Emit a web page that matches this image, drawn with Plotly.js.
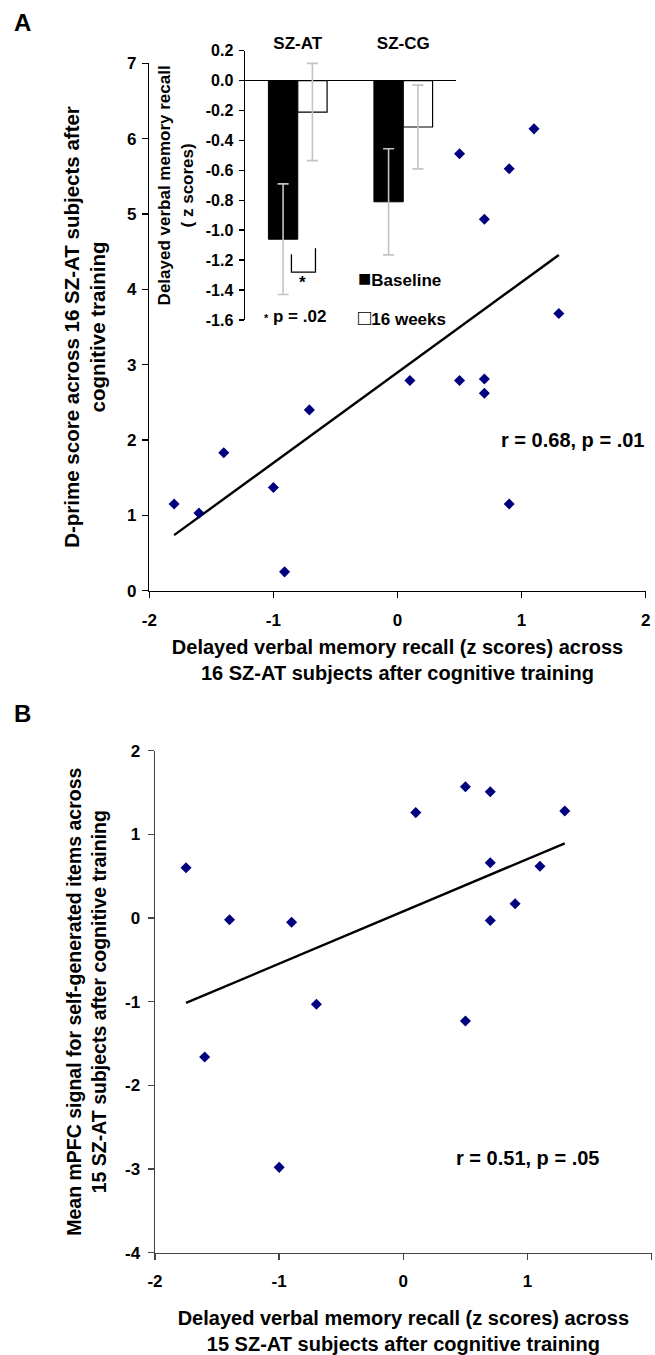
<!DOCTYPE html>
<html>
<head>
<meta charset="utf-8">
<script src="https://cdn.plot.ly/plotly-3.0.1.min.js"></script>
<style>html,body{margin:0;padding:0;background:#fff}#chart{width:655px;height:1355px}</style>
</head>
<body>
<div id="chart"></div>
<script>
// ---- Panel A scatter: delayed verbal memory recall vs D-prime (16 SZ-AT subjects)
const recallA = [-1.8, -1.6, -1.4, -1.0, -0.91, -0.71, 0.1, 0.5, 0.7, 0.7, 0.9, 1.3, 0.5, 0.9, 1.1, 0.7];
const dprimeA = [1.15, 1.03, 1.83, 1.37, 0.25, 2.40, 2.79, 2.79, 2.81, 2.62, 1.15, 3.68, 5.80, 5.60, 6.13, 4.93];
const statA = 'r = 0.68, p = .01';

// ---- Panel B scatter: delayed verbal memory recall vs mPFC signal (15 SZ-AT subjects)
const recallB = [-1.75, -1.6, -1.4, -1.0, -0.9, -0.7, 0.1, 0.5, 0.5, 0.7, 0.7, 0.7, 0.9, 1.1, 1.3];
const mpfcB  = [0.60, -1.66, -0.02, -2.98, -0.05, -1.03, 1.26, 1.57, -1.23, 1.51, 0.66, -0.03, 0.17, 0.62, 1.28];
const statB = 'r = 0.51, p = .05';

// ---- Inset bar chart: delayed verbal memory recall (z scores)
const groups = ['SZ-AT', 'SZ-CG'];
const baseline = [-1.06, -0.81];
const baselineErr = [0.37, 0.355];
const weeks16 = [-0.21, -0.31];
const weeks16Err = [0.325, 0.28];
const legendNames = ['Baseline', '16 weeks'];
const sigMark = '*';
const sigNote = ' p = .02';

// ---- Tick values (labels written with a plain hyphen as in the original)
const xTicks = [-2, -1, 0, 1, 2];
const yTicksA = [0, 1, 2, 3, 4, 5, 6, 7];
const yTicksB = [-4, -3, -2, -1, 0, 1, 2];
const yTicksInset = [0.2, 0.0, -0.2, -0.4, -0.6, -0.8, -1.0, -1.2, -1.4, -1.6];

function fitLine(xs, ys) {
  const n = xs.length;
  const mx = xs.reduce((a, b) => a + b, 0) / n;
  const my = ys.reduce((a, b) => a + b, 0) / n;
  let sxy = 0, sxx = 0;
  for (let i = 0; i < n; i++) { sxy += (xs[i] - mx) * (ys[i] - my); sxx += (xs[i] - mx) ** 2; }
  const slope = sxy / sxx, icpt = my - slope * mx;
  const x0 = Math.min(...xs), x1 = Math.max(...xs);
  return { x: [x0, x1], y: [icpt + slope * x0, icpt + slope * x1] };
}
const fitA = fitLine(recallA, dprimeA);
const fitB = fitLine(recallB, mpfcB);

const FONT = 'Liberation Sans, Arial, sans-serif';
const navy = '#00007f';
const W = 655, H = 1355;
const px = v => v / W, py = v => 1 - v / H;

const markerStyle = { symbol: 'diamond', size: 8.5, color: navy };

const traces = [
  { type: 'scatter', mode: 'lines', x: fitA.x, y: fitA.y, xaxis: 'x', yaxis: 'y',
    line: { color: '#000', width: 2.4 }, hoverinfo: 'skip' },
  { type: 'scatter', mode: 'markers', x: recallA, y: dprimeA, xaxis: 'x', yaxis: 'y', marker: markerStyle },
  { type: 'scatter', mode: 'lines', x: fitB.x, y: fitB.y, xaxis: 'x2', yaxis: 'y2',
    line: { color: '#000', width: 2.4 }, hoverinfo: 'skip' },
  { type: 'scatter', mode: 'markers', x: recallB, y: mpfcB, xaxis: 'x2', yaxis: 'y2', marker: markerStyle },
  { type: 'bar', name: legendNames[0], x: groups, y: baseline, xaxis: 'x3', yaxis: 'y3',
    marker: { color: '#000', line: { color: '#000', width: 1 } },
    error_y: { type: 'data', array: baselineErr, visible: true, color: '#c4c4c4', thickness: 1.6, width: 5.5 } },
  { type: 'bar', name: legendNames[1], x: groups, y: weeks16, xaxis: 'x3', yaxis: 'y3',
    marker: { color: '#fff', line: { color: '#000', width: 1.2 } },
    error_y: { type: 'data', array: weeks16Err, visible: true, color: '#c4c4c4', thickness: 1.6, width: 5.5 } }
];

const tickF = { family: FONT, size: 17, color: '#000', weight: 'bold' };
const titleF = { family: FONT, size: 20, color: '#000', weight: 'bold' };

const mainAxis = (extra) => Object.assign({
  showline: true, linecolor: '#000', linewidth: 1.5, mirror: false,
  ticks: 'outside', ticklen: 6, tickwidth: 1.5, tickcolor: '#000',
  showgrid: false, zeroline: false, tickfont: tickF, automargin: false, fixedrange: true
}, extra);

const arrTicks = (vals, digits) => ({
  tickmode: 'array', tickvals: vals,
  ticktext: vals.map(v => digits ? v.toFixed(digits) : String(v))
});

const layout = {
  width: W, height: H,
  margin: { l: 0, r: 0, t: 0, b: 0 },
  paper_bgcolor: '#fff', plot_bgcolor: 'rgba(0,0,0,0)',
  showlegend: false,
  barmode: 'group', bargap: 0.444, bargroupgap: 0,
  font: { family: FONT, color: '#000' },
  xaxis: mainAxis(Object.assign({ domain: [px(149.3), px(645.7)], anchor: 'y', range: [-2, 2], ticklabelstandoff: 7,
    title: { text: 'Delayed verbal memory recall (z scores) across<br>16 SZ-AT subjects after cognitive training', font: titleF, standoff: 11 } },
    arrTicks(xTicks))),
  yaxis: mainAxis(Object.assign({ domain: [py(590.7), py(63.3)], anchor: 'x', range: [0, 7], ticklabelstandoff: 2,
    title: { text: 'D-prime score across 16 SZ-AT subjects after<br>cognitive training', font: Object.assign({}, titleF, { size: 20.5 }), standoff: 15 } },
    arrTicks(yTicksA))),
  xaxis2: mainAxis(Object.assign({ domain: [px(155), px(651.7)], anchor: 'y2', range: [-2, 2], ticklabelstandoff: 6,
    linecolor: '#444', tickcolor: '#444',
    title: { text: 'Delayed verbal memory recall (z scores) across<br>15 SZ-AT subjects after cognitive training', font: titleF, standoff: 22 } },
    arrTicks(xTicks))),
  yaxis2: mainAxis(Object.assign({ domain: [py(1252.7), py(750.7)], anchor: 'x2', range: [-4, 2], ticklabelstandoff: 4,
    linecolor: '#444', tickcolor: '#444',
    title: { text: 'Mean mPFC signal for self-generated items across<br>15 SZ-AT subjects after cognitive training', font: Object.assign({}, titleF, { size: 19.5 }), standoff: 13 } },
    arrTicks(yTicksB))),
  xaxis3: { domain: [px(245), px(456)], anchor: 'y3', type: 'category', side: 'top',
    showline: false, ticks: '', showgrid: false, zeroline: false, automargin: false, fixedrange: true,
    tickfont: tickF, ticklabelstandoff: -3 },
  yaxis3: Object.assign({ domain: [py(320), py(50.7)], anchor: 'x3', range: [-1.6, 0.2],
    showline: true, linecolor: '#000', linewidth: 1.5, ticks: 'outside', ticklen: 5,
    tickwidth: 1.5, tickcolor: '#000', showgrid: false, zeroline: true, zerolinecolor: '#000', zerolinewidth: 1.5,
    automargin: false, fixedrange: true, ticklabelstandoff: 2,
    tickfont: { family: FONT, size: 16, color: '#000', weight: 'bold' },
    title: { text: 'Delayed verbal memory recall<br>( z scores)', font: { family: FONT, size: 17, color: '#000', weight: 'bold' }, standoff: 8 } },
    arrTicks(yTicksInset, 1)),
  shapes: [
    // significance bracket in inset
    { type: 'path', xref: 'x3', yref: 'y3', path: 'M -0.06 -1.16 L -0.06 -1.28 L 0.168 -1.28 L 0.168 -1.12',
      line: { color: '#000', width: 1.3 } }
  ],
  annotations: [
    { text: 'A', xref: 'paper', yref: 'paper', x: px(12), y: py(22), xanchor: 'left', yanchor: 'middle',
      showarrow: false, font: { family: FONT, size: 24, weight: 'bold', color: '#000' } },
    { text: 'B', xref: 'paper', yref: 'paper', x: px(12), y: py(713), xanchor: 'left', yanchor: 'middle',
      showarrow: false, font: { family: FONT, size: 24, weight: 'bold', color: '#000' } },
    { text: statA, xref: 'x', yref: 'y', x: 1.41, y: 2.0, showarrow: false,
      font: { family: FONT, size: 20, weight: 'bold', color: '#000' } },
    { text: statB, xref: 'x2', yref: 'y2', x: 1.0, y: -2.87, showarrow: false,
      font: { family: FONT, size: 20, weight: 'bold', color: '#000' } },
    { text: sigMark, xref: 'x3', yref: 'y3', x: 0.045, y: -1.35, showarrow: false,
      font: { family: FONT, size: 17, weight: 'bold', color: '#000' } },
    { text: '<span style="font-size:11px">' + sigMark + '</span>' + sigNote, xref: 'x3', yref: 'y3', x: -0.03, y: -1.575, showarrow: false,
      font: { family: FONT, size: 17, weight: 'bold', color: '#000' } },
    { text: '<span style="font-size:22px">\u25A0</span>' + legendNames[0], xref: 'x3', yref: 'y3', x: 0.556, y: -1.32, xanchor: 'left', showarrow: false,
      font: { family: FONT, size: 17, weight: 'bold', color: '#000' } },
    { text: '<span style="font-size:22px">\u25A1</span>' + legendNames[1], xref: 'x3', yref: 'y3', x: 0.556, y: -1.585, xanchor: 'left', showarrow: false,
      font: { family: FONT, size: 17, weight: 'bold', color: '#000' } }
  ]
};

Plotly.newPlot('chart', traces, layout, { staticPlot: true, displayModeBar: false });
</script>
</body>
</html>
